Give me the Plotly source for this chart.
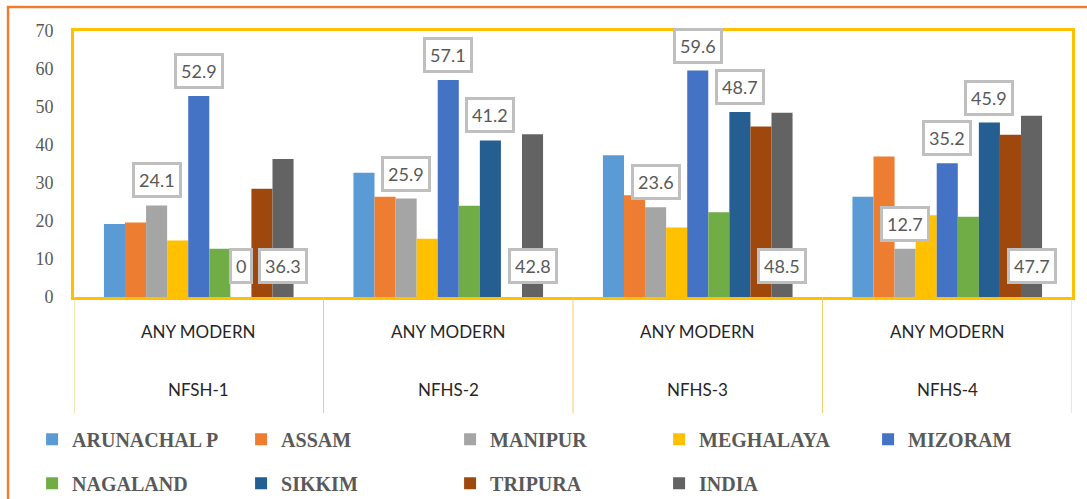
import plotly.graph_objects as go

# Survey rounds and indicator shown on the two-level category axis
rounds = ["NFSH-1", "NFHS-2", "NFHS-3", "NFHS-4"]
indicator = ["ANY MODERN", "ANY MODERN", "ANY MODERN", "ANY MODERN"]

# Any modern contraceptive use (%) by state
states = ["ARUNACHAL P", "ASSAM", "MANIPUR", "MEGHALAYA", "MIZORAM",
          "NAGALAND", "SIKKIM", "TRIPURA", "INDIA"]
arunachal = [19.2, 32.7, 37.3, 26.4]
assam = [19.6, 26.4, 26.8, 37.0]
manipur = [24.1, 25.9, 23.6, 12.7]
meghalaya = [14.9, 15.3, 18.3, 21.5]
mizoram = [52.9, 57.1, 59.6, 35.2]
nagaland = [12.7, 24.0, 22.3, 21.1]
sikkim = [0, 41.2, 48.7, 45.9]
tripura = [28.5, 0, 44.9, 42.7]
india = [36.3, 42.8, 48.5, 47.7]

series = [arunachal, assam, manipur, meghalaya, mizoram,
          nagaland, sikkim, tripura, india]
colors = ["#5B9BD5", "#ED7D31", "#A5A5A5", "#FFC000", "#4472C4",
          "#70AD47", "#255E91", "#9E480E", "#636363"]

# Series that carry boxed value labels: above the bar top, or at the bar base
top_labelled = ["MANIPUR", "MIZORAM", "SIKKIM"]
base_labelled = ["INDIA"]

bargap = 0.24
bar_w = (1 - bargap) / len(states)
groups = list(range(len(rounds)))

fig = go.Figure()
for s, (name, vals, col) in enumerate(zip(states, series, colors)):
    offset = (s - (len(states) - 1) / 2) * bar_w
    fig.add_trace(go.Bar(
        x=[g + offset for g in groups], y=vals, width=bar_w, name=name,
        marker=dict(color=col, line=dict(width=0)),
        legend="legend" if s < 5 else "legend2",
    ))

label_font = dict(family="Lato, Open Sans, sans-serif", size=18, color="#595959")
annotations = []
for s, (name, vals) in enumerate(zip(states, series)):
    if name not in top_labelled and name not in base_labelled:
        continue
    offset = (s - (len(states) - 1) / 2) * bar_w
    for g, v in zip(groups, vals):
        at_base = name in base_labelled
        annotations.append(dict(
            x=g + offset, y=0 if at_base else v, xref="x", yref="y",
            text=f"{v:g}", showarrow=False, yanchor="bottom",
            yshift=13 if (at_base or v == 0) else 7,
            font=label_font, bgcolor="white", bordercolor="#BFBFBF",
            borderwidth=3, borderpad=4,
        ))

cat_font = dict(family="Lato, Open Sans, sans-serif", size=17, color="#262626")
for g in groups:
    annotations.append(dict(x=g, y=-0.128, xref="x", yref="paper", text=indicator[g],
                            showarrow=False, font=cat_font, yanchor="middle"))
    annotations.append(dict(x=g, y=-0.346, xref="x", yref="paper", text=rounds[g],
                            showarrow=False, font=cat_font, yanchor="middle"))

shapes = []
for b in range(len(rounds) + 1):
    shapes.append(dict(type="line", xref="x", yref="paper", x0=b - 0.5, x1=b - 0.5,
                       y0=0, y1=-0.436, line=dict(color="#F7CB6B", width=1)))
# Outer chart border
shapes.append(dict(type="rect", xref="paper", yref="paper", x0=-0.0661, x1=1.2,
                   y0=-1.2, y1=1.0902, line=dict(color="#ED7D31", width=2.5),
                   layer="below"))

legend_font = dict(family="Liberation Serif, Times New Roman, serif", size=20,
                   color="#595959", weight="bold")
legend_common = dict(orientation="h", x=-0.042, xanchor="left", yanchor="middle",
                     font=legend_font, entrywidth=164, entrywidthmode="pixels",
                     itemwidth=30, traceorder="normal", bgcolor="rgba(0,0,0,0)")
fig.update_layout(
    width=1087, height=499,
    margin=dict(l=74, r=15, t=31, b=202, autoexpand=False),
    paper_bgcolor="white", plot_bgcolor="white",
    barmode="overlay", showlegend=True,
    xaxis=dict(range=[-0.5, 3.5], showticklabels=False, showgrid=False, zeroline=False,
               showline=True, mirror=True, linecolor="#FFC000", linewidth=3, ticks=""),
    yaxis=dict(range=[0, 70], dtick=10, showgrid=False, zeroline=False,
               showline=True, mirror=True, linecolor="#FFC000", linewidth=3,
               ticks="", ticklabelstandoff=14,
               tickfont=dict(family="Liberation Serif, Times New Roman, serif",
                             size=18, color="#595959")),
    legend=dict(legend_common, y=-0.535),
    legend2=dict(legend_common, y=-0.70),
    annotations=annotations, shapes=shapes,
)

fig.write_html("out.html")
